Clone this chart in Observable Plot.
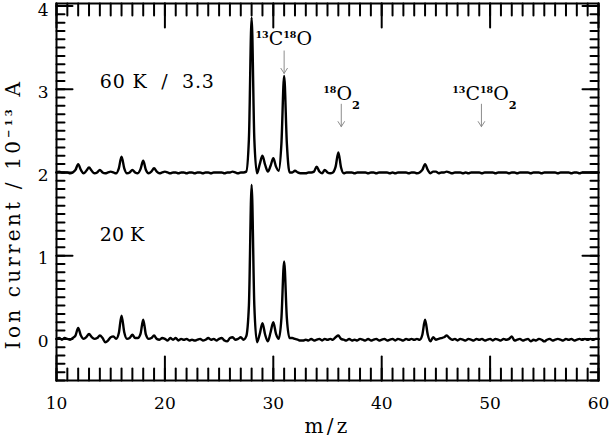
<!DOCTYPE html>
<html><head><meta charset="utf-8">
<script src="https://cdn.jsdelivr.net/npm/d3@7"></script>
<script src="https://cdn.jsdelivr.net/npm/@observablehq/plot@0.6"></script>
<style>
body{margin:0;background:#fff;}
svg text{font-family:"DejaVu Serif",serif;white-space:pre;}
</style></head><body><div id="chart"></div>
<script>
// m/z sampling of the traces
const mzStart = 10, mzStep = 0.25;
// 60 K spectrum (divided by 3.3, offset by 2), one row per unit of m/z
const t60 = [
 2.00,2.01,2.00,2.00, 2.00,1.99,2.00,2.03, 2.10,2.03,1.99,2.02, 2.06,2.02,1.99,2.00,
 2.03,2.00,1.99,2.00, 2.01,2.00,1.99,2.05, 2.19,2.05,1.99,2.00, 2.03,2.00,1.99,2.04,
 2.14,2.03,1.99,2.01, 2.05,2.01,1.99,2.00, 2.01,2.00,1.99,2.00, 2.00,1.99,2.00,2.00,
 1.99,2.00,2.00,1.99, 2.00,2.00,1.99,2.00, 2.00,1.99,2.00,2.00, 2.00,2.00,1.99,2.00,
 2.00,2.01,2.00,1.99, 2.00,2.00,2.01,2.40, 3.86,2.40,1.99,2.10, 2.20,2.09,2.01,2.08,
 2.17,2.07,2.02,2.35, 3.16,2.35,2.00,2.00, 2.02,2.00,1.99,1.99, 1.99,2.00,2.00,2.01,
 2.07,2.01,1.99,2.03, 2.00,1.99,2.00,2.07, 2.24,2.06,1.99,2.00, 2.00,2.00,1.99,2.00,
 2.00,2.00,2.00,1.99, 2.00,2.00,1.99,2.00, 2.00,2.00,2.00,1.99, 2.00,1.99,2.00,2.00,
 2.00,2.00,1.99,2.00, 2.00,1.99,2.00,2.03, 2.10,2.03,1.99,2.01, 2.01,1.99,2.00,2.00,
 2.01,2.00,1.99,2.00, 2.00,2.00,1.99,2.00, 1.99,2.00,2.00,2.00, 2.00,1.99,2.00,2.00,
 2.00,2.00,1.99,2.00, 2.00,2.00,2.00,1.99, 2.00,2.00,1.99,2.00, 2.00,2.00,2.00,1.99,
 2.00,2.00,2.00,1.99, 2.00,2.00,2.00,2.00, 2.00,1.99,2.00,2.00, 2.00,2.00,1.99,2.00,
 2.00,1.99,2.00,2.00, 2.00,2.00,2.00,2.00, 2.00
];
// 20 K spectrum
const t20 = [
 0.00,0.01,-0.01,0.01, 0.00,-0.01,0.01,0.04, 0.13,0.04,0.00,0.02, 0.06,0.02,0.00,0.01,
 0.04,0.01,-0.04,-0.02, 0.02,0.03,0.00,0.07, 0.28,0.08,0.00,0.01, 0.05,0.01,0.01,0.06,
 0.23,0.05,0.00,0.01, 0.04,0.00,-0.01,0.01, 0.00,-0.02,0.01,-0.01, 0.01,-0.02,0.00,-0.01,
 0.00,-0.02,-0.01,-0.02, -0.01,0.00,-0.02,-0.01, 0.01,-0.01,0.00,-0.02, 0.00,0.01,-0.02,-0.03,
 0.01,0.02,-0.01,0.00, 0.02,-0.01,0.03,0.40, 1.85,0.40,-0.04,0.06, 0.19,0.05,-0.03,0.08,
 0.20,0.06,0.00,0.25, 0.93,0.25,0.01,0.01, 0.00,-0.01,-0.02,-0.02, -0.01,-0.02,0.00,-0.02,
 -0.01,0.00,-0.02,0.00, -0.01,0.00,-0.01,0.02, 0.04,0.00,-0.01,-0.02, 0.00,-0.02,-0.01,-0.02,
 0.00,-0.01,-0.02,0.00, -0.02,-0.01,0.00,-0.02, -0.01,0.00,-0.02,-0.01, 0.00,-0.02,0.00,-0.01,
 -0.02,0.00,-0.01,0.00, -0.01,0.00,-0.01,0.05, 0.23,0.05,-0.03,0.02, -0.01,0.00,0.01,0.02,
 0.04,0.01,-0.01,0.00, -0.02,0.00,-0.01,-0.02, 0.00,-0.01,-0.02,0.00, -0.01,0.00,-0.02,-0.01,
 0.00,-0.02,0.00,-0.01, -0.02,0.00,-0.01,0.00, 0.03,-0.02,-0.01,0.00, -0.02,-0.01,0.00,-0.03,
 -0.01,-0.02,0.00,-0.01, -0.03,-0.01,0.00,-0.02, -0.01,0.00,-0.01,-0.02, 0.00,-0.01,0.00,-0.02,
 -0.01,0.00,-0.01,0.00, -0.01,0.00,-0.01,0.00, 0.00
];
const xMajor = [10, 20, 30, 40, 50, 60];
const yLabels = [0, 1, 2, 3, 4];
const xMinor = d3.range(10, 61);
const yMinor = d3.range(-5, 41).map(d => d / 10);
const noteText = ["60 K  /  3.3", "20 K", "^{13}C^{18}O", "^{18}O_{2}", "^{13}C^{18}O_{2}"];
const noteX = [14.0, 14.0, 28.35, 34.6, 46.5];
const noteY = [3.09, 1.25, 3.6, 2.94, 2.94];
const arrowX = [31.0, 36.27, 49.2];
const arrowTop = [3.46, 2.82, 2.82];
const arrowTip = [3.19, 2.55, 2.55];

const notes = noteText.map((t, i) => ({t, x: noteX[i], y: noteY[i]}));
const arrows = arrowX.map((x, i) => ({x, y1: arrowTop[i], y2: arrowTip[i]}));
const mz = i => mzStart + i * mzStep;

const W = 609, H = 440, mL = 56, mR = 11, mT = 3, mB = 60;
const xDom = [10, 60], yDom = [-0.5, 4.03];
const pxX = (W - mL - mR) / (xDom[1] - xDom[0]);
const pxY = (H - mT - mB) / (yDom[1] - yDom[0]);

// inward tick segments as arrows without heads (the arrow mark renders fine here)
const tickSegs = [];
function xTicks(xs, len) {
  const L = len / pxY;
  for (const x of xs) {
    tickSegs.push({x1: x, x2: x, y1: yDom[0] + L, y2: yDom[0]});
    tickSegs.push({x1: x, x2: x, y1: yDom[1] - L, y2: yDom[1]});
  }
}
function yTicks(ys, len) {
  const L = len / pxX;
  for (const y of ys) {
    tickSegs.push({x1: xDom[0] + L, x2: xDom[0], y1: y, y2: y});
    tickSegs.push({x1: xDom[1] - L, x2: xDom[1], y1: y, y2: y});
  }
}
xTicks(xMajor, 24); xTicks(xMinor, 12);
yTicks(yLabels, 16); yTicks(yMinor, 8);

const chart = Plot.plot({
  width: W, height: H,
  marginLeft: mL, marginRight: mR, marginTop: mT, marginBottom: mB,
  x: {domain: xDom},
  y: {domain: yDom},
  style: {fontFamily: "DejaVu Serif", background: "white", color: "black"},
  marks: [
    Plot.frame({stroke: "black", strokeWidth: 2, fill: "none"}),
    Plot.arrow(tickSegs, {x1: "x1", y1: "y1", x2: "x2", y2: "y2", stroke: "#000000", strokeWidth: 2, headLength: 0, insetEnd: 0, insetStart: 0}),
    Plot.axisX(xMajor, {anchor: "bottom", tickSize: 0, tickPadding: 16, fontSize: 17, tickFormat: d => String(d), label: null}),
    Plot.axisY(yLabels.filter(d => d < 4), {anchor: "left", tickSize: 0, tickPadding: 8, dy: 3, fontSize: 17, tickFormat: d => String(d), label: null}),
    Plot.axisY(yLabels.filter(d => d >= 4), {anchor: "left", tickSize: 0, tickPadding: 8, dy: 5, fontSize: 17, tickFormat: d => String(d), label: null}),
    Plot.line(t60, {x: (d, i) => mz(i), y: d => d, stroke: "black", strokeWidth: 2.4, curve: "monotone-x"}),
    Plot.line(t20, {x: (d, i) => mz(i), y: d => d, stroke: "black", strokeWidth: 2.4, curve: "monotone-x"}),
    Plot.arrow(arrows, {x1: "x", x2: "x", y1: "y1", y2: "y2", stroke: "#8c8c8c", strokeWidth: 1, headLength: 9, headAngle: 65}),
    Plot.text(notes, {x: "x", y: "y", text: "t", textAnchor: "start", fontSize: 19, fill: "black"}),
    Plot.text(["m/z"], {frameAnchor: "bottom", dy: 52, fontSize: 20, fill: "black"}),
    Plot.text(["Ion current / 10^{−13} A"], {frameAnchor: "left", textAnchor: "middle", dx: -43, dy: 22, rotate: -90, fontSize: 20, fill: "black"})
  ]
});
document.getElementById("chart").appendChild(chart);

// letter spacing of the axis titles and the 60 K note
d3.select(chart).selectAll("text").each(function() {
  const t = this.textContent;
  if (t === "m/z" || t.startsWith("Ion")) this.setAttribute("letter-spacing", 3.2);
  else if (t.startsWith("60 K")) this.setAttribute("letter-spacing", 0.8);
});
// rich text: ^{..} superscript, _{..} subscript
d3.select(chart).selectAll("text").each(function() {
  const t = this.textContent;
  if (!/[\^_]\{/.test(t)) return;
  const fs = parseFloat(getComputedStyle(this).fontSize) || 19;
  const parts = []; const re = /([\^_])\{([^}]*)\}|([^\^_]+)/g; let m;
  while ((m = re.exec(t))) parts.push(m[3] !== undefined ? {s: m[3], k: 0} : {s: m[2], k: m[1] === "^" ? 1 : -1});
  const el = d3.select(this); el.text(null);
  let shift = 0;
  for (const p of parts) {
    const target = p.k === 1 ? -0.4 * fs : p.k === -1 ? 0.48 * fs : 0;
    const ts = el.append("tspan").attr("dy", target - shift).text(p.s);
    if (p.k) ts.attr("font-size", (p.k === 1 ? 0.5 : 0.6) * fs).attr("font-weight", "bold");
    shift = target;
  }
});
</script></body></html>
